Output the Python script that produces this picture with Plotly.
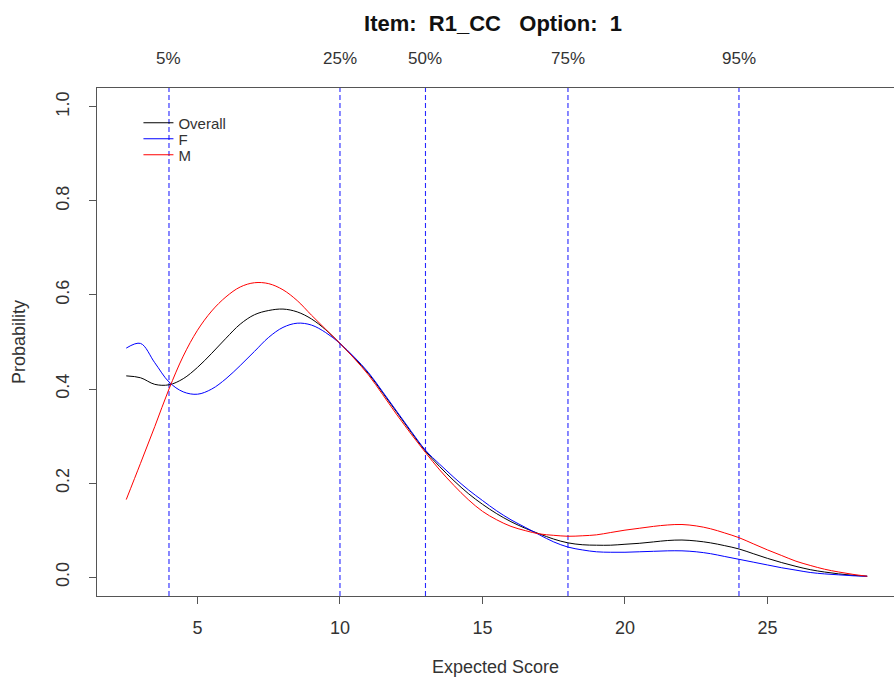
import plotly.graph_objects as go

# ---- data ----
score = [2.5, 3.0, 3.5, 4.0, 4.5, 5.0, 5.5, 6.0, 6.5, 7.0, 7.5, 8.0, 8.5, 9.0,
         9.5, 10.0, 10.5, 11.0, 11.5, 12.0, 12.5, 13.0, 13.5, 14.0, 14.5, 15.0,
         15.5, 16.0, 16.5, 17.0, 17.5, 18.0, 18.5, 19.0, 19.5, 20.0, 20.5, 21.0,
         21.5, 22.0, 22.5, 23.0, 23.5, 24.0, 24.5, 25.0, 25.5, 26.0, 26.5, 27.0,
         27.5, 28.0, 28.5]

overall = [0.428, 0.424, 0.410, 0.409, 0.422, 0.446, 0.476, 0.508, 0.538, 0.558,
           0.567, 0.570, 0.564, 0.549, 0.526, 0.497, 0.466, 0.433, 0.392, 0.350,
           0.308, 0.268, 0.235, 0.205, 0.178, 0.155, 0.135, 0.118, 0.104, 0.092,
           0.081, 0.073, 0.069, 0.068, 0.068, 0.070, 0.072, 0.075, 0.078, 0.079,
           0.077, 0.073, 0.067, 0.060, 0.050, 0.040, 0.031, 0.023, 0.016, 0.011,
           0.007, 0.004, 0.002]

female = [0.487, 0.497, 0.456, 0.415, 0.394, 0.389, 0.400, 0.422, 0.450, 0.480,
          0.510, 0.531, 0.540, 0.536, 0.520, 0.497, 0.468, 0.435, 0.394, 0.352,
          0.310, 0.270, 0.240, 0.212, 0.186, 0.163, 0.141, 0.122, 0.106, 0.090,
          0.075, 0.064, 0.058, 0.054, 0.053, 0.053, 0.054, 0.055, 0.056, 0.056,
          0.054, 0.050, 0.044, 0.038, 0.032, 0.026, 0.020, 0.015, 0.010, 0.007,
          0.005, 0.003, 0.002]

male = [0.165, 0.242, 0.320, 0.400, 0.470, 0.525, 0.566, 0.596, 0.617, 0.626,
        0.624, 0.611, 0.588, 0.557, 0.527, 0.497, 0.465, 0.430, 0.388, 0.345,
        0.304, 0.265, 0.228, 0.195, 0.165, 0.140, 0.122, 0.108, 0.099, 0.092,
        0.089, 0.087, 0.088, 0.090, 0.095, 0.100, 0.104, 0.108, 0.111, 0.112,
        0.109, 0.103, 0.094, 0.084, 0.071, 0.058, 0.046, 0.034, 0.025, 0.017,
        0.011, 0.006, 0.002]

pct_pos = [4, 10, 13, 18, 24]
pct_labels = ["5%", "25%", "50%", "75%", "95%"]

x_ticks = [5, 10, 15, 20, 25]
y_ticks = [0.0, 0.2, 0.4, 0.6, 0.8, 1.0]
y_ticktext = ["0.0", "0.2", "0.4", "0.6", "0.8", "1.0"]

title_text = "Item:  R1_CC   Option:  1"

FONT = "Liberation Sans, Arial, sans-serif"

series = [("Overall", overall, "black", "legend"),
          ("F", female, "blue", "legend2"),
          ("M", male, "red", "legend3")]

fig = go.Figure()

# percentile reference lines: drawn as a trace on the x scale, spanning the y range
vx, vy = [], []
for p in pct_pos:
    vx += [p, p, None]
    vy += [-0.04, 1.04, None]
fig.add_trace(go.Scatter(x=vx, y=vy, mode="lines", showlegend=False, connectgaps=False,
                         line=dict(color="rgb(40,40,255)", width=1.1, dash="5px,3px")))

for name, vals, col, lg in series:
    fig.add_trace(go.Scatter(x=score, y=vals, mode="lines", name=name, legend=lg,
                             line=dict(color=col, width=1, shape="spline", smoothing=1.0)))

for p, t in zip(pct_pos, pct_labels):
    fig.add_annotation(x=p, y=1.059, xref="x", yref="paper", text=t, showarrow=False,
                       font=dict(size=17, color="#333333", family=FONT),
                       xanchor="center", yanchor="middle")

leg_x = 0.052
leg_common = dict(xanchor="left", yanchor="middle", bgcolor="rgba(0,0,0,0)",
                  font=dict(size=15, color="#333333", family=FONT), itemwidth=30)

fig.update_layout(
    width=894, height=677,
    margin=dict(l=97, r=0, t=88, b=81),
    paper_bgcolor="white", plot_bgcolor="white",
    hovermode=False,
    font=dict(family=FONT, size=18, color="#333333"),
    title=dict(text="<b>" + title_text + "</b>", x=493 / 894, xanchor="center",
               y=1 - 23 / 677, yanchor="middle", font=dict(size=22, color="#111111")),
    showlegend=True,
    legend=dict(x=leg_x, y=(596 - 123) / 508, **leg_common),
    legend2=dict(x=leg_x, y=(596 - 139) / 508, **leg_common),
    legend3=dict(x=leg_x, y=(596 - 155) / 508, **leg_common),
    xaxis=dict(range=[1.474, 29.44], tickvals=x_ticks, ticks="outside", ticklen=7,
               tickcolor="#555555", showline=True, linecolor="#555555", mirror=True,
               showgrid=False, zeroline=False, automargin=False, showspikes=False,
               tickfont=dict(size=18),
               title=dict(text="Expected Score", standoff=24, font=dict(size=18)),
               ticklabelstandoff=8),
    yaxis=dict(range=[-0.04, 1.04], tickvals=y_ticks, ticktext=y_ticktext,
               ticks="outside", ticklen=7, tickangle=-90,
               tickcolor="#555555", showline=True, linecolor="#555555", mirror=False,
               showgrid=False, zeroline=False, automargin=False, showspikes=False,
               tickfont=dict(size=18),
               title=dict(text="Probability", standoff=22, font=dict(size=18)),
               ticklabelstandoff=13),
)

fig.write_html(
    "out.html",
    config={"displayModeBar": False, "staticPlot": True},
    post_script="document.body.style.margin='0';document.body.style.padding='0';"
                "document.body.style.overflow='hidden';",
)
